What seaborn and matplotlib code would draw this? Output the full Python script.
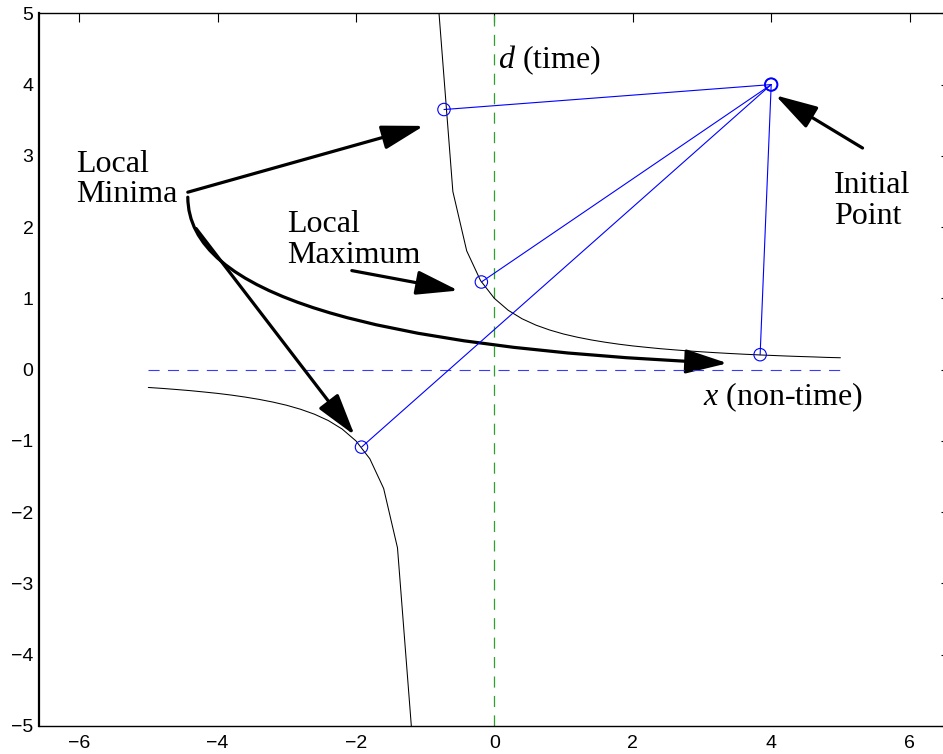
import numpy as np
import pandas as pd
import matplotlib
matplotlib.use("Agg")
import matplotlib.pyplot as plt
from matplotlib.patches import FancyArrowPatch
from matplotlib.path import Path
import seaborn as sns

# Constraint curve d = f(x), sampled every 0.2 (the pole at x = -1 splits it in two)
lower_x = [-5.0, -4.8, -4.6, -4.4, -4.2, -4.0, -3.8, -3.6, -3.4, -3.2,
           -3.0, -2.8, -2.6, -2.4, -2.2, -2.0, -1.8, -1.6, -1.4, -1.2]
lower_d = [-0.25, -0.263, -0.278, -0.294, -0.313, -0.333, -0.357, -0.385, -0.417, -0.455,
           -0.5, -0.556, -0.625, -0.714, -0.833, -1.0, -1.25, -1.667, -2.5, -5.0]
upper_x = [-0.8, -0.6, -0.4, -0.2, 0.0, 0.2, 0.4, 0.6, 0.8, 1.0,
           1.2, 1.4, 1.6, 1.8, 2.0, 2.2, 2.4, 2.6, 2.8, 3.0,
           3.2, 3.4, 3.6, 3.8, 4.0, 4.2, 4.4, 4.6, 4.8, 5.0]
upper_d = [5.0, 2.5, 1.667, 1.25, 1.0, 0.833, 0.714, 0.625, 0.556, 0.5,
           0.455, 0.417, 0.385, 0.357, 0.333, 0.313, 0.294, 0.278, 0.263, 0.25,
           0.238, 0.227, 0.217, 0.208, 0.2, 0.192, 0.185, 0.179, 0.172, 0.167]

# Initial point and the points it converges to
start_x, start_d = 4.0, 4.0
end_x = [-0.728, -0.188, -1.92, 3.84]
end_d = [3.65, 1.23, -1.087, 0.21]

# Reference axes
axis_span = [-5.0, 5.0]

x_ticks = [-6, -4, -2, 0, 2, 4, 6]
y_ticks = [-5, -4, -3, -2, -1, 0, 1, 2, 3, 4, 5]

sns.set_style("white")
plt.rcParams["font.family"] = ["Liberation Sans", "DejaVu Sans"]
plt.rcParams["mathtext.fontset"] = "custom"
plt.rcParams["mathtext.rm"] = "Liberation Serif"
plt.rcParams["mathtext.it"] = "Liberation Serif:italic"
plt.rcParams["lines.scale_dashes"] = False

fig = plt.figure(figsize=(9.43, 7.54), dpi=100)
ax = fig.add_axes([0.04136, 0.03714, 0.9658, 0.9452])

# Dashed reference axes
ref_h = pd.DataFrame({"x": axis_span, "y": [0.0, 0.0]})
ref_v = pd.DataFrame({"x": [0.0, 0.0], "y": axis_span})
sns.lineplot(data=ref_h, x="x", y="y", ax=ax, color="#3a3aff", lw=0.8,
             linestyle=(0, (8, 6)), sort=False, estimator=None)
sns.lineplot(data=ref_v, x="x", y="y", ax=ax, color="#2f9f2f", lw=0.9,
             linestyle=(0, (8, 6)), sort=False, estimator=None)

# Constraint curve branches
sns.lineplot(x=lower_x, y=lower_d, ax=ax, color="black", lw=0.75,
             sort=False, estimator=None)
sns.lineplot(x=upper_x, y=upper_d, ax=ax, color="black", lw=0.75,
             sort=False, estimator=None)

# Paths from the initial point
segs = pd.DataFrame({
    "seg": np.repeat(np.arange(len(end_x)), 2),
    "x": [v for ex in end_x for v in (start_x, ex)],
    "y": [v for ed in end_d for v in (start_d, ed)],
})
sns.lineplot(data=segs, x="x", y="y", units="seg", estimator=None, sort=False,
             ax=ax, color="blue", lw=0.8)
pts = pd.DataFrame({"x": [start_x] + end_x, "y": [start_d] + end_d})
sns.scatterplot(data=pts, x="x", y="y", ax=ax, marker="o", s=80,
                facecolors="none", edgecolor="blue", linewidth=0.8, zorder=5)
sns.scatterplot(x=[start_x], y=[start_d], ax=ax, marker="o", s=80,
                facecolors="none", edgecolor="blue", linewidth=1.4, zorder=5)

# Annotation arrows
astyle = "-|>,head_length=2.6,head_width=0.75"
arrow_kw = dict(arrowstyle=astyle, color="black", lw=2.3,
                shrinkA=0, shrinkB=0, mutation_scale=10)
straight_arrows = [
    ((-4.43, 2.49), (-1.02, 3.42)),
    ((-4.31, 1.98), (-2.02, -0.92)),
    ((-2.06, 1.39), (-0.52, 1.11)),
    ((5.32, 3.11), (4.06, 3.85)),
]
for tail, tip in straight_arrows:
    ax.annotate("", xy=tip, xytext=tail, arrowprops=arrow_kw)

curve = Path([(-4.43, 2.42), (-4.43, 0.41), (3.37, 0.09)],
             [Path.MOVETO, Path.CURVE3, Path.CURVE3])
ax.add_patch(FancyArrowPatch(path=curve, arrowstyle=astyle, color="black",
                             lw=2.3, mutation_scale=10, transform=ax.transData))

# Labels
serif = dict(family=["Liberation Serif", "DejaVu Serif"], fontsize=23,
             va="baseline", ha="left", color="black")
ax.text(-6.05, 2.77, "Local", **serif)
ax.text(-6.05, 2.35, "Minima", **serif)
ax.text(-3.0, 1.93, "Local", **serif)
ax.text(-3.0, 1.50, "Maximum", **serif)
ax.text(4.905, 2.48, "Initial", **serif)
ax.text(4.905, 2.04, "Point", **serif)
ax.text(0.05, 4.23, r"$d$ (time)", **serif)
ax.text(3.01, -0.50, r"$x$ (non-time)", **serif)

ax.set_xlim(-6.58, 6.58)
ax.set_ylim(-5, 5)
ax.set_xticks(x_ticks)
ax.set_yticks(y_ticks)
ax.set_xticklabels([f"{t}".replace("-", "\u2212") for t in x_ticks])
ax.set_yticklabels([f"{t}".replace("-", "\u2212") for t in y_ticks])
ax.set_xlabel("")
ax.set_ylabel("")
ax.tick_params(direction="in", length=6.7, width=0.8, labelsize=14,
               top=True, right=True, colors="black", pad=4)
ax.tick_params(axis="x", pad=6.5)
for name, side in ax.spines.items():
    side.set_visible(True)
    side.set_color("black")
    side.set_linewidth(1.6 if name == "left" else 1.0)

fig.savefig("out.png", dpi=100)
